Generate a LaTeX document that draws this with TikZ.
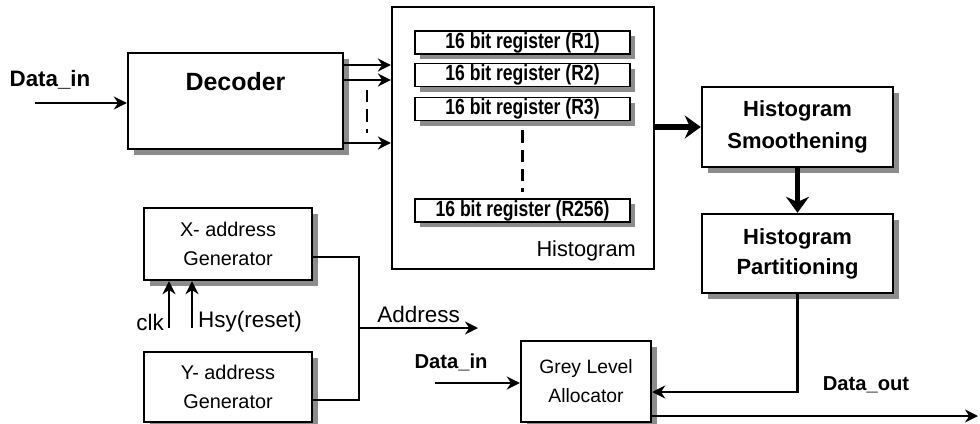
\documentclass[tikz,border=0pt]{standalone}
\usepackage{fontspec}
\setmainfont{Liberation Sans}
\newfontfamily\regfont{Liberation Sans}[FakeStretch=0.8]
\usetikzlibrary{arrows.meta,positioning}
\definecolor{shadowgray}{RGB}{140,140,140}

\begin{document}
\begin{tikzpicture}[x=0.02cm,y=-0.02cm,
    box/.style={draw, line width=1.4pt, fill=white, inner sep=0pt, align=center},
    reg/.style={box, line width=1.1pt, minimum width=4.3cm, minimum height=0.46cm,
      font=\regfont\bfseries\fontsize{12.5}{13}\selectfont},
    boxshadow/.style={fill=shadowgray},
    sig/.style={line width=1.5pt, -{Stealth[length=0.26cm, width=0.26cm]}},
    wide/.style={line width=3.4pt, -{Stealth[length=0.32cm, width=0.46cm]}},
    port/.style={font=\bfseries\fontsize{11.5}{14}\selectfont},
    wire/.style={font=\fontsize{12.8}{15}\selectfont}]
    \useasboundingbox (0,0) rectangle (980,423);

    % shadows behind the boxes
    \fill[boxshadow] (134,59) rectangle (349,155);   % decoder
    \fill[boxshadow] (708,93) rectangle (899,173);   % smoothening
    \fill[boxshadow] (708,220) rectangle (899,299);  % partitioning
    \fill[boxshadow] (527,347) rectangle (657,427);  % allocator
    \fill[boxshadow] (150,214) rectangle (318,286);  % x generator
    \fill[boxshadow] (150,358) rectangle (318,427);  % y generator

    % Histogram memory with its registers
    \node[draw, line width=1.3pt, minimum width=5.24cm, minimum height=5.24cm,
      label={[anchor=south east, inner sep=0pt, xshift=-0.38cm, yshift=0.18cm,
        font=\fontsize{12.4}{14}\selectfont]south east:Histogram}]
      (hist) at (523,138) {};
    \foreach \y in {42.5,75,109,210.5}
      \fill[boxshadow] (420,\y-6.5) rectangle (635,\y+16.5);
    \node[reg] (reg1) at (522.5,42.5) {16 bit register (R1)};
    \node[reg] (reg2) at (522.5,75) {16 bit register (R2)};
    \node[reg] (reg3) at (522.5,109) {16 bit register (R3)};
    \node[reg] (reg256) at (522.5,210.5) {16 bit register (R256)};
    \draw[line width=1.2pt, dash pattern=on 7pt off 4pt, shorten <=0.18cm, shorten >=0.12cm] (reg3.south) -- (reg256.north);

    % Decoder
    \node[box, minimum width=4.3cm, minimum height=1.92cm,
      label={[anchor=north, inner sep=0pt, yshift=-0.4cm, font=\bfseries\fontsize{14.2}{16}\selectfont]north:Decoder}]
      (decoder) at (235.5,101) {};
    \coordinate (din1) at (35,103);
    \node[port, font=\bfseries\fontsize{12.7}{15}\selectfont] (din1text) at (50,80) {Data\_in};
    \draw[sig] (din1) -- (decoder.west |- din1);
    \draw[sig] (decoder.east |- 0,65) -- (hist.west |- 0,65);
    \draw[sig] (decoder.east |- 0,80) -- (hist.west |- 0,80);
    \draw[sig] (decoder.east |- 0,143) -- (hist.west |- 0,143);
    \draw[line width=1.2pt, dash pattern=on 7pt off 4pt] (367,90) -- (367,133);

    % Smoothening and partitioning
    \node[box, minimum width=3.82cm, minimum height=1.6cm,
      font=\bfseries\fontsize{12.5}{18}\selectfont] (smooth) at (797.5,127) {Histogram\\Smoothening};
    \node[box, minimum width=3.82cm, minimum height=1.58cm,
      font=\bfseries\fontsize{12.5}{17}\selectfont] (part) at (797.5,253.5) {Histogram\\Partitioning};
    \draw[wide] (hist.east |- smooth) -- (smooth.west);
    \draw[wide] (smooth.south) -- (part.north);

    % Grey level allocator
    \node[box, minimum width=2.6cm, minimum height=1.62cm,
      font=\fontsize{11}{16.5}\selectfont] (gla) at (586,381.5) {Grey Level\\Allocator};
    \draw[sig] (part.south) -- (part.south |- 0,392) -- (gla.east |- 0,392);
    \coordinate (din2) at (435,383);
    \node[port] (din2text) at (451,362) {Data\_in};
    \draw[sig] (din2) -- (gla.west |- din2);
    \coordinate (dout) at (978,416);
    \node[port] (douttext) at (866,385) {Data\_out};
    \draw[sig] (gla.east |- dout) -- (dout);

    % Address generators
    \node[box, minimum width=3.36cm, minimum height=1.44cm,
      font=\fontsize{11.3}{16.4}\selectfont] (xgen) at (228,244) {X- address\\Generator};
    \node[box, minimum width=3.36cm, minimum height=1.4cm,
      font=\fontsize{11.3}{16.4}\selectfont] (ygen) at (228,387) {Y- address\\Generator};
    \coordinate (busx) at (359,328);
    \coordinate (addr) at (478,328);
    \draw[line width=1.5pt] (xgen.east |- 0,257) -| (busx) |- (ygen.east |- 0,400);
    \draw[sig] (busx) -- (addr) node[wire, pos=0.5, above=-1pt] (addrtext) {Address};
    \coordinate (clk) at (169,328);
    \coordinate (hsy) at (192,328);
    \draw[sig] (clk) -- (xgen.south -| clk);
    \draw[sig] (hsy) -- (xgen.south -| hsy);
    \node[wire, anchor=east, inner sep=1pt] (clktext) at (166,322) {clk};
    \node[wire, anchor=west, inner sep=1pt] (hsytext) at (196,322) {Hsy(reset)};
\end{tikzpicture}
\end{document}
